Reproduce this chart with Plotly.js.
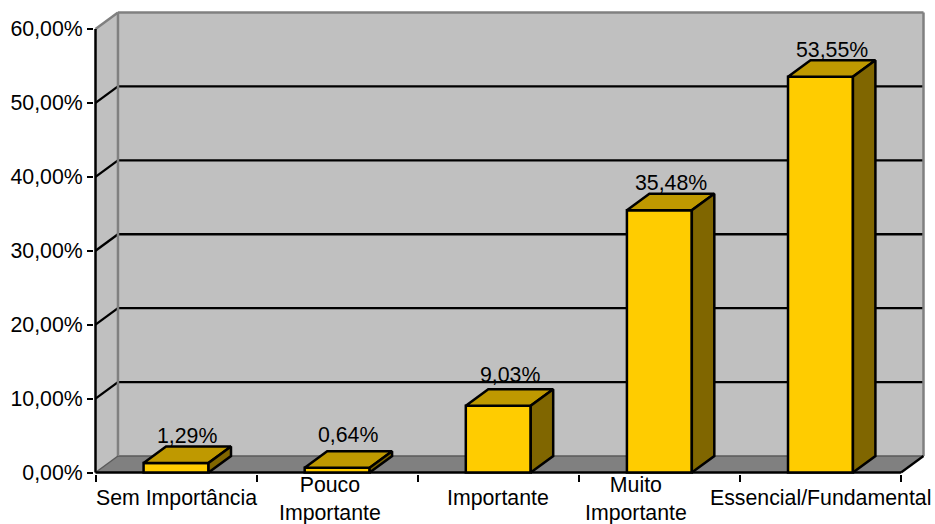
<!DOCTYPE html>
<html>
<head>
<meta charset="utf-8">
<script src="https://cdn.plot.ly/plotly-3.0.1.min.js"></script>
<style>html,body{margin:0;padding:0;background:#fff}</style>
</head>
<body>
<div id="chart" style="width:935px;height:524px"></div>
<script>
// Survey results, in percent
const categories = ['Sem Importância', 'Pouco<br>Importante', 'Importante', 'Muito<br>Importante', 'Essencial/Fundamental'];
const values = [1.29, 0.64, 9.03, 35.48, 53.55];
const valueLabels = ['1,29%', '0,64%', '9,03%', '35,48%', '53,55%'];
const yTicks = [0, 10, 20, 30, 40, 50, 60];
const yTickLabels = ['0,00%', '10,00%', '20,00%', '30,00%', '40,00%', '50,00%', '60,00%'];

// Pixel scale of the front plane and the oblique depth of the box
const pxPerCategory = 161.3, pxPerPercent = 7.4;
const depthPxX = 22.5, depthPxY = 16.5, pad = 1.5;
const depthX = depthPxX / pxPerCategory, depthY = depthPxY / pxPerPercent;
const barWidth = 0.403;
const nCat = categories.length, yMax = yTicks[yTicks.length - 1];
const wallRight = nCat + depthX, wallTop = yMax + depthY;

const FONT = 'Liberation Sans, Arial, sans-serif';
const FONT_SIZE = 21.3;
const WALL = '#C0C0C0', EDGE = '#808080', FLOOR = '#808080', FLOOR_EDGE = '#5A5A5A';
const GRID_W = 2.3, EDGE_W = 2.5, BAR_W = 2.5;

// Pixel offsets for the hand-placed text (positive yshift moves up)
const catShiftX = [0, -7, 0, -23, 0], catShiftY = [-24, -25, -24, -25, -24];
const valShiftY = [-4, 2, 0, -3, -4];

function poly(x, y, fill, line, w, layer) {
  const path = x.map((v, i) => (i ? 'L' : 'M') + v + ',' + y[i]).join(' ') + ' Z';
  return {type: 'path', xref: 'x', yref: 'y', path, fillcolor: fill,
          line: {color: line, width: w}, layer: layer || 'below'};
}
function seg(x0, y0, x1, y1, color, w) {
  return {type: 'line', xref: 'x', yref: 'y', x0, y0, x1, y1, line: {color, width: w}, layer: 'below'};
}

// Walls and floor of the box
const shapes = [
  poly([0, depthX, depthX, 0], [0, depthY, wallTop, yMax], WALL, WALL, 0),
  poly([depthX, wallRight, wallRight, depthX], [depthY, depthY, wallTop, wallTop], WALL, WALL, 0),
  poly([0, nCat, wallRight, depthX], [0, 0, depthY, depthY], FLOOR, FLOOR, 0)
];
// Gridlines run along the side wall and across the back wall
yTicks.slice(1, -1).forEach(t => {
  shapes.push(seg(0, t, depthX, t + depthY, '#000', GRID_W));
  shapes.push(seg(depthX, t + depthY, wallRight, t + depthY, '#000', GRID_W));
});
shapes.push(
  seg(depthX, depthY, wallRight, depthY, FLOOR_EDGE, 1.5),
  seg(0, yMax, depthX, wallTop, EDGE, EDGE_W),
  seg(depthX, wallTop, wallRight, wallTop, EDGE, EDGE_W),
  seg(depthX, depthY, depthX, wallTop, EDGE, EDGE_W),
  seg(wallRight, depthY, wallRight, wallTop, EDGE, EDGE_W),
  seg(0, 0, depthX, depthY, FLOOR_EDGE, 1.5),
  seg(nCat, 0, wallRight, depthY, '#000', GRID_W),
  seg(0, 0, 0, yMax, '#000', EDGE_W),
  seg(0, 0, nCat, 0, '#000', EDGE_W)
);

// Top and side faces of each bar, built from its value
const topX = [], topY = [], sideX = [], sideY = [];
values.forEach((v, i) => {
  const l = i + 0.5 - barWidth / 2, r = i + 0.5 + barWidth / 2;
  topX.push(l, r, r + depthX, l + depthX, l, null);
  topY.push(v, v, v + depthY, v + depthY, v, null);
  sideX.push(r, r + depthX, r + depthX, r, r, null);
  sideY.push(0, depthY, v + depthY, v, 0, null);
});

const traces = [
  {type: 'bar', x: categories.map((_, i) => i + 0.5), y: values, width: barWidth,
   marker: {color: '#FFCC00', line: {color: '#000', width: BAR_W}}, hoverinfo: 'skip'},
  {type: 'scatter', mode: 'lines', x: topX, y: topY, fill: 'toself', fillcolor: '#BF9900',
   line: {color: '#000', width: BAR_W}, hoverinfo: 'skip'},
  {type: 'scatter', mode: 'lines', x: sideX, y: sideY, fill: 'toself', fillcolor: '#806600',
   line: {color: '#000', width: BAR_W}, hoverinfo: 'skip'}
];

const annotations = [];
values.forEach((v, i) => {
  annotations.push({x: i + 0.5 + depthX / 2, y: v + depthY, xref: 'x', yref: 'y', text: valueLabels[i],
    showarrow: false, yanchor: 'bottom', xanchor: 'center', yshift: valShiftY[i],
    font: {family: FONT, size: FONT_SIZE, color: '#000'}});
});
categories.forEach((c, i) => {
  annotations.push({x: i + 0.5, y: 0, xref: 'x', yref: 'paper', text: c, showarrow: false,
    yanchor: 'middle', xanchor: 'center', xshift: catShiftX[i], yshift: catShiftY[i],
    font: {family: FONT, size: FONT_SIZE, color: '#000'}});
});

const layout = {
  width: 935, height: 524, showlegend: false,
  paper_bgcolor: '#fff', plot_bgcolor: '#fff',
  margin: {l: 95 - pad, r: 935 - 924 - pad, t: 12.5 - pad, b: 51.5 - pad, pad: 0},
  xaxis: {range: [-pad / pxPerCategory, wallRight + pad / pxPerCategory], showgrid: false, zeroline: false,
          showline: false, tickvals: categories.map((_, i) => i).concat([nCat]), ticks: 'outside',
          ticklen: 7, tickwidth: 2, tickcolor: '#000', showticklabels: false, fixedrange: true},
  yaxis: {range: [-pad / pxPerPercent, wallTop + pad / pxPerPercent], showgrid: false, zeroline: false,
          showline: false, tickvals: yTicks, ticktext: yTickLabels, ticks: 'outside',
          ticklen: 6, tickwidth: 2, tickcolor: '#000',
          tickfont: {family: FONT, size: FONT_SIZE, color: '#000'}, fixedrange: true},
  shapes, annotations, bargap: 0
};

Plotly.newPlot('chart', traces, layout, {displayModeBar: false, staticPlot: true});
</script>
</body>
</html>
